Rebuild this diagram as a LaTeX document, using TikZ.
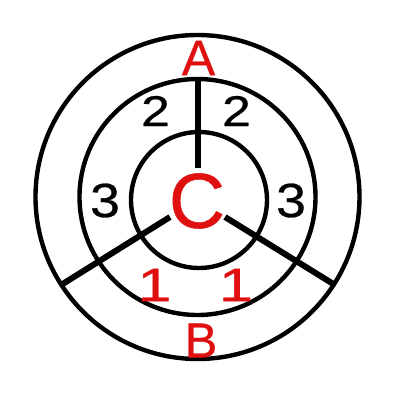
\documentclass[tikz,border=0pt]{standalone}
\usepackage{fontspec}
\setmainfont{Liberation Sans}
\newfontfamily\labfont[FakeBold=0.6]{Liberation Sans}
\definecolor{labred}{RGB}{224,16,16}
\begin{document}
\begin{tikzpicture}[x=1pt,y=-1pt,
  ring/.style={draw=black,line width=4.4pt},
  bond/.style={draw=black,line width=6pt,line cap=butt},
  redlab/.style={text=labred,inner sep=0pt,anchor=center},
  blklab/.style={text=black,inner sep=0pt,anchor=center}]
\useasboundingbox (0,0) rectangle (400,400);
\fill[white] (0,0) rectangle (400,400);
% rings
\draw[ring] (197.5,197) circle[radius=162];
\draw[ring] (197.5,197) circle[radius=118];
\draw[ring] (199,200) circle[radius=68];
% bond end points
\coordinate (topin) at (197.5,168);
\coordinate (topout) at (197.5,79);
\coordinate (lin) at (170,217);
\coordinate (lout) at (61,285);
\coordinate (rin) at (225,217);
\coordinate (rout) at (335,285);
\draw[bond] (topin) -- (topout);
\draw[bond] (lin) -- (lout);
\draw[bond] (rin) -- (rout);
% labels
\node[redlab,font=\labfont\fontsize{78}{78}\selectfont] (c) at (197,201) {C};
\node[redlab,font=\labfont\fontsize{50}{50}\selectfont] (a) at (198.5,58) {A};
\node[redlab,font=\labfont\fontsize{49}{49}\selectfont] (b) at (201,340.5) {B};
\node[blklab,font=\labfont\fontsize{43}{43}\selectfont,xscale=1.2] (twol) at (155.5,111) {2};
\node[blklab,font=\labfont\fontsize{43}{43}\selectfont,xscale=1.2] (twor) at (236.5,111) {2};
\node[blklab,font=\labfont\fontsize{48}{48}\selectfont,xscale=1.12] (threel) at (105,200.5) {3};
\node[blklab,font=\labfont\fontsize{48}{48}\selectfont,xscale=1.12] (threer) at (291,200.5) {3};
\node[redlab,font=\labfont\fontsize{47}{47}\selectfont,xscale=1.3] (onel) at (154.5,285) {1};
\node[redlab,font=\labfont\fontsize{47}{47}\selectfont,xscale=1.3] (oner) at (236,285) {1};
\end{tikzpicture}
\end{document}
